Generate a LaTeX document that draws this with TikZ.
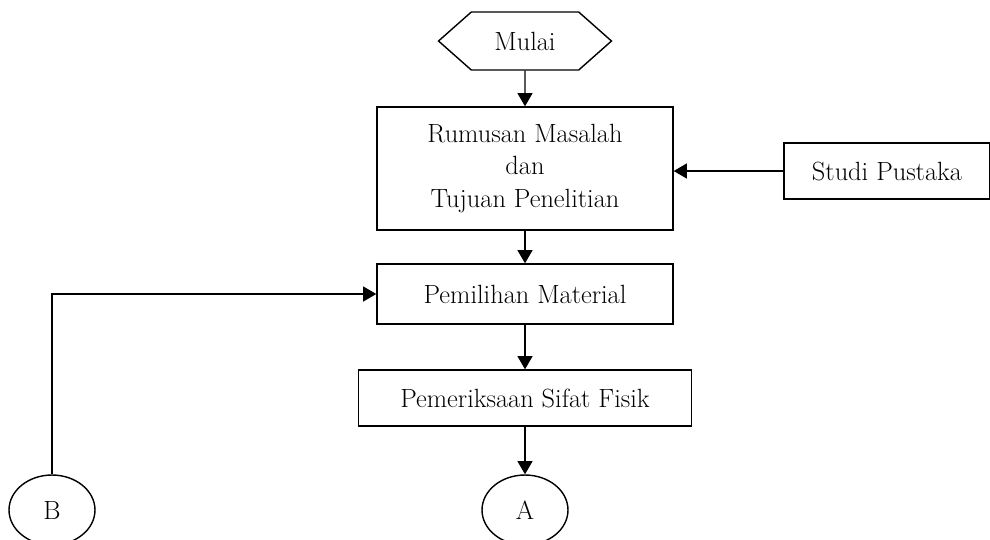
\documentclass[tikz,border=0pt]{standalone}
\usepackage{tikz}
\usetikzlibrary{arrows.meta,shapes.symbols,shapes.geometric}

\begin{document}
\begin{tikzpicture}[x=0.02cm, y=-0.02cm,
    every node/.style={font=\fontsize{15}{18.5}\selectfont},
    kotak/.style={draw, line width=0.8pt, align=center, inner sep=0pt},
    terminal/.style={draw, line width=0.8pt, signal, signal to=west and east,
        signal pointer angle=83, inner sep=0pt, minimum width=3.46cm, minimum height=1.16cm},
    konektor/.style={draw, line width=0.8pt, ellipse, inner sep=0pt, minimum width=1.72cm, minimum height=1.4cm},
    panah/.style={line width=0.8pt, -{Triangle[length=7.5pt,width=8.5pt]}}]
    \useasboundingbox (0,0) rectangle (990,539);

    \node[terminal] (mulai) at (525,41) {Mulai};
    \node[kotak, minimum width=5.92cm, minimum height=2.46cm] (rumusan) at (525,168.5)
        {Rumusan Masalah\\dan\\Tujuan Penelitian};
    \node[kotak, minimum width=4.12cm, minimum height=1.12cm] (studi) at (887,171) {Studi Pustaka};
    \node[kotak, minimum width=5.92cm, minimum height=1.2cm] (pemilihan) at (525,294) {Pemilihan Material};
    \node[kotak, minimum width=6.66cm, minimum height=1.12cm] (periksa) at (525,398) {Pemeriksaan Sifat Fisik};
    \node[konektor] (a) at (525,510) {A};
    \node[konektor] (b) at (52,510) {B};

    \coordinate (masuk) at (rumusan.east |- studi.west);
    \draw[panah] (mulai) -- (rumusan);
    \draw[panah] (studi.west) -- (masuk);
    \draw[panah] (rumusan) -- (pemilihan);
    \draw[panah] (pemilihan) -- (periksa);
    \draw[panah] (periksa) -- (a);
    \draw[panah] (b) |- (pemilihan.west);
\end{tikzpicture}
\end{document}
